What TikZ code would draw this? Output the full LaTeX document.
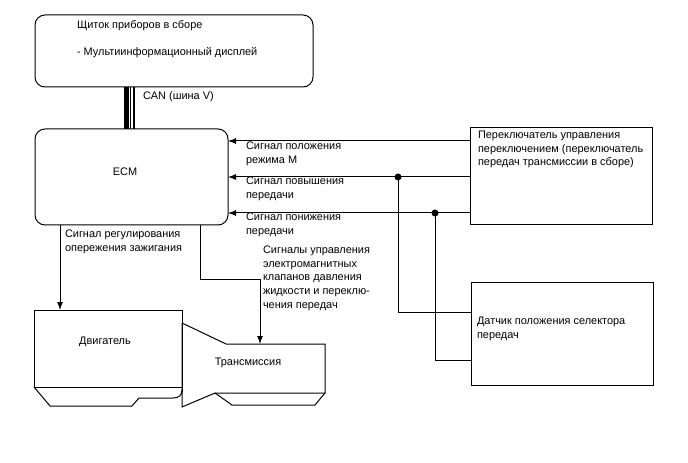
\documentclass[tikz,border=0pt]{standalone}
\usepackage{fontspec}
\setmainfont{Liberation Sans}
\usetikzlibrary{arrows.meta,calc}
\begin{document}
\begin{tikzpicture}[x=0.75pt,y=-0.75pt,
  line width=0.75pt,
  every node/.style={font=\fontsize{8.2pt}{10.2pt}\selectfont, inner sep=0pt, outer sep=0pt},
  box/.style={draw, line width=0.75pt},
  rbox/.style={box, rounded corners=7.5pt},
  lbl/.style={anchor=north west, align=left},
  arr/.style={-{Latex[length=6pt,width=4.5pt]}},
  dotc/.style={fill=black}]
\useasboundingbox (0,0) rectangle (688,463);

% boxes
\node[rbox, minimum width=208.5pt, minimum height=54pt] (top) at (174,51) {};
\node[rbox, minimum width=144.75pt, minimum height=72pt] (ecm) at (131.5,177) {};
\node[box, minimum width=136.5pt, minimum height=72.75pt] (sw) at (561,176.5) {};
\node[box, minimum width=136.5pt, minimum height=77.25pt] (sens) at (562,333.5) {};

% texts
\node[lbl] (toptxt) at (77,20) {Щиток приборов в сборе\\[10.2pt]- Мультиинформационный дисплей};
\node (ecmtxt) at (125,172) {ECM};
\node[lbl] (swtxt) at (478,131) {Переключатель управления\\переключением (переключатель\\передач трансмиссии в сборе)};
\node[lbl] (senstxt) at (477,317) {Датчик положения селектора\\передач};
\node[anchor=west] (cantxt) at (143,97) {CAN (шина V)};
\node[lbl] (l1) at (246,142) {Сигнал положения\\режима M};
\node[lbl] (l2) at (246,177) {Сигнал повышения\\передачи};
\node[lbl] (l3) at (246,213) {Сигнал понижения\\передачи};
\node[lbl] (l4) at (65,230) {Сигнал регулирования\\опережения зажигания};
\node[lbl] (l5) at (263,246) {Сигналы управления\\электромагнитных\\клапанов давления\\жидкости и переклю-\\чения передач};
\node (engtxt) at (105,342) {Двигатель};
\node (trtxt) at (248,363) {Трансмиссия};

% CAN bus
\coordinate (c1) at (125.8,0);
\coordinate (c2) at (128.9,0);
\coordinate (c3) at (130.8,0);
\coordinate (c4) at (134.3,0);
\draw[line width=2.7pt] (top.south -| c1) -- (ecm.north -| c1);
\draw[line width=0.7pt] (top.south -| c2) -- (ecm.north -| c2);
\draw[line width=0.7pt] (top.south -| c3) -- (ecm.north -| c3);
\draw[line width=1.6pt] (top.south -| c4) -- (ecm.north -| c4);

% signals from switch
\coordinate (y1) at (0,141);
\coordinate (y2) at (0,177);
\coordinate (y3) at (0,213);
\draw[arr] (sw.west |- y1) -- (ecm.east |- y1);
\draw[arr] (sw.west |- y2) -- (ecm.east |- y2);
\draw[arr] (sw.west |- y3) -- (ecm.east |- y3);
\coordinate (d1) at (398,177);
\coordinate (d2) at (435,213);
\fill[dotc] (d1) circle (3.5);
\fill[dotc] (d2) circle (3.5);
\coordinate (s1) at (0,312);
\coordinate (s2) at (0,360);
\draw (d1) -- (d1 |- s1) -- (sens.west |- s1);
\draw (d2) -- (d2 |- s2) -- (sens.west |- s2);

% engine shape
\coordinate (engtop) at (60,310);
\draw (34,387) -- (34,310) -- (182,310) -- (182,392);
\draw (34,387) -- (182,387);
\draw (34,387) -- (50,406) -- (132,406) -- (139,398) -- (173,398) .. controls (179,398) and (182,395) .. (182,390);

% transmission shape
\coordinate (trtop) at (260,344);
\draw (182,323) -- (226,344) -- (325,344) -- (325,393) -- (215,393);
\draw (182,323) -- (182,407) -- (215,393);
\draw (215,393) -- (232,405) -- (315,405) -- (325,393);

% ECM outputs
\draw[arr] (ecm.south -| engtop) -- (engtop);
\coordinate (b1) at (200,279);
\draw[arr] (ecm.south -| b1) -- (b1) -- (b1 -| trtop) -- (trtop);
\end{tikzpicture}
\end{document}
